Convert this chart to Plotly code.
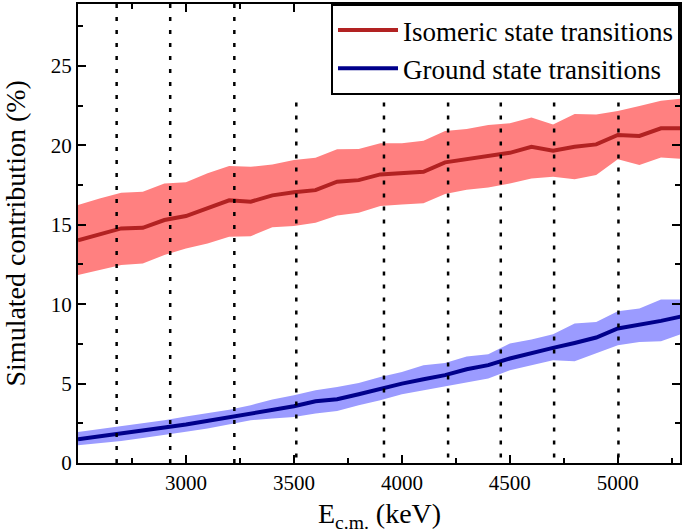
import plotly.graph_objects as go

energy_kev = [2500, 2600, 2700, 2800, 2900, 3000, 3100, 3200, 3300, 3400,
              3500, 3600, 3700, 3800, 3900, 4000, 4100, 4200, 4300, 4400,
              4500, 4600, 4700, 4800, 4900, 5000, 5100, 5200, 5300]

iso_mid = [14.02, 14.40, 14.77, 14.81, 15.30, 15.55, 16.03, 16.54, 16.45, 16.85,
           17.04, 17.18, 17.71, 17.81, 18.17, 18.24, 18.34, 18.93, 19.13, 19.28,
           19.53, 19.91, 19.66, 19.91, 20.06, 20.65, 20.59, 21.07, 21.07]
iso_high = [16.24, 16.66, 17.01, 17.08, 17.60, 17.67, 18.24, 18.70, 18.65, 18.80,
            19.07, 19.22, 19.75, 19.77, 20.13, 20.13, 20.29, 20.90, 21.03, 21.28,
            21.39, 21.76, 21.32, 21.97, 21.95, 22.16, 22.48, 22.81, 22.96]
iso_low = [11.83, 12.15, 12.46, 12.56, 13.09, 13.51, 13.82, 14.24, 14.28, 14.85,
           14.92, 15.12, 15.59, 15.75, 16.18, 16.28, 16.35, 16.93, 17.20, 17.35,
           17.60, 17.92, 18.02, 17.86, 18.13, 19.12, 18.76, 19.24, 19.14]

gs_mid = [1.50, 1.67, 1.85, 2.03, 2.23, 2.42, 2.65, 2.94, 3.11, 3.38,
          3.57, 3.89, 4.01, 4.33, 4.69, 5.00, 5.27, 5.53, 5.90, 6.16,
          6.58, 6.93, 7.25, 7.56, 7.90, 8.47, 8.68, 8.95, 9.24]
gs_high = [1.95, 2.13, 2.31, 2.50, 2.69, 2.92, 3.15, 3.36, 3.64, 4.00,
           4.27, 4.58, 4.79, 5.04, 5.42, 5.73, 6.16, 6.30, 6.70, 6.85,
           7.52, 7.78, 8.11, 8.78, 8.88, 9.56, 9.73, 10.30, 10.30]
gs_low = [1.12, 1.25, 1.39, 1.57, 1.75, 1.96, 2.17, 2.42, 2.69, 2.80,
          2.90, 3.11, 3.28, 3.64, 3.95, 4.33, 4.58, 4.83, 5.10, 5.32,
          5.84, 6.16, 6.47, 6.41, 6.93, 7.42, 7.62, 7.67, 8.15]

# vertical dotted reference energies and the height each line reaches
marker_energies = [2679, 2927, 3224, 3511, 3917, 4214, 4458, 4705, 5003]
marker_tops = [28.9, 28.9, 28.9, 22.7, 22.7, 22.7, 22.7, 22.7, 22.7]

x_tick_vals = [3000, 3500, 4000, 4500, 5000]
y_tick_vals = [0, 5, 10, 15, 20, 25]

RED_FILL = "#ff8080"
RED_LINE = "#b22222"
BLUE_FILL = "#9b9bff"
BLUE_LINE = "#00008b"
FONT = "Liberation Serif"

fig = go.Figure()

fig.add_trace(go.Scatter(x=energy_kev, y=iso_high, mode="lines",
                         line=dict(width=0, color=RED_FILL), showlegend=False,
                         hoverinfo="skip"))
fig.add_trace(go.Scatter(x=energy_kev, y=iso_low, mode="lines",
                         line=dict(width=0, color=RED_FILL), fill="tonexty",
                         fillcolor=RED_FILL, showlegend=False, hoverinfo="skip"))
fig.add_trace(go.Scatter(x=energy_kev, y=gs_high, mode="lines",
                         line=dict(width=0, color=BLUE_FILL), showlegend=False,
                         hoverinfo="skip"))
fig.add_trace(go.Scatter(x=energy_kev, y=gs_low, mode="lines",
                         line=dict(width=0, color=BLUE_FILL), fill="tonexty",
                         fillcolor=BLUE_FILL, showlegend=False, hoverinfo="skip"))

fig.add_trace(go.Scatter(x=energy_kev, y=iso_mid, mode="lines",
                         line=dict(width=4, color=RED_LINE),
                         name="Isomeric state transitions"))
fig.add_trace(go.Scatter(x=energy_kev, y=gs_mid, mode="lines",
                         line=dict(width=4, color=BLUE_LINE),
                         name="Ground state transitions"))

for e, top in zip(marker_energies, marker_tops):
    fig.add_shape(type="line", xref="x", yref="y", x0=e, x1=e, y0=top, y1=0,
                  line=dict(color="black", width=2.5, dash="4px,9px"),
                  layer="above")

axis_common = dict(showline=True, linecolor="black", linewidth=2, mirror="ticks",
                   ticks="inside", ticklen=8, tickwidth=2, tickcolor="black",
                   showgrid=False, zeroline=False, automargin=False,
                   tickfont=dict(family=FONT, size=21, color="black"))

fig.update_xaxes(range=[2500, 5288], tickmode="array", tickvals=x_tick_vals,
                 minor=dict(ticks="inside", ticklen=5, tickwidth=2, tickcolor="black",
                            tickmode="linear", tick0=2500, dtick=250),
                 **axis_common)
fig.update_yaxes(range=[0, 28.9], tickmode="array", tickvals=y_tick_vals,
                 minor=dict(ticks="inside", ticklen=5, tickwidth=2, tickcolor="black",
                            tickmode="linear", tick0=0, dtick=2.5),
                 **axis_common)

fig.add_annotation(text="E<sub>c.m.</sub> (keV)", xref="paper", yref="paper",
                   x=0.5, y=0, yshift=-52, xanchor="center", yanchor="middle",
                   showarrow=False, font=dict(family=FONT, size=28, color="black"))
fig.add_annotation(text="Simulated contribution (%)", xref="paper", yref="paper",
                   x=0, y=0.5, xshift=-63, xanchor="center", yanchor="middle",
                   textangle=-90, showarrow=False,
                   font=dict(family=FONT, size=28, color="black"))

fig.update_layout(
    width=685, height=532,
    margin=dict(l=78, r=5, t=4, b=69),
    paper_bgcolor="white", plot_bgcolor="white",
    legend=dict(x=1, xanchor="right", y=1, yanchor="top", traceorder="normal",
                bordercolor="black", borderwidth=2, bgcolor="white",
                itemwidth=60,
                font=dict(family=FONT, size=27, color="black")),
    showlegend=True,
)

fig.write_html("out.html", config={"displayModeBar": False},
               post_script="document.body.style.margin='0';document.body.style.overflow='hidden';")
